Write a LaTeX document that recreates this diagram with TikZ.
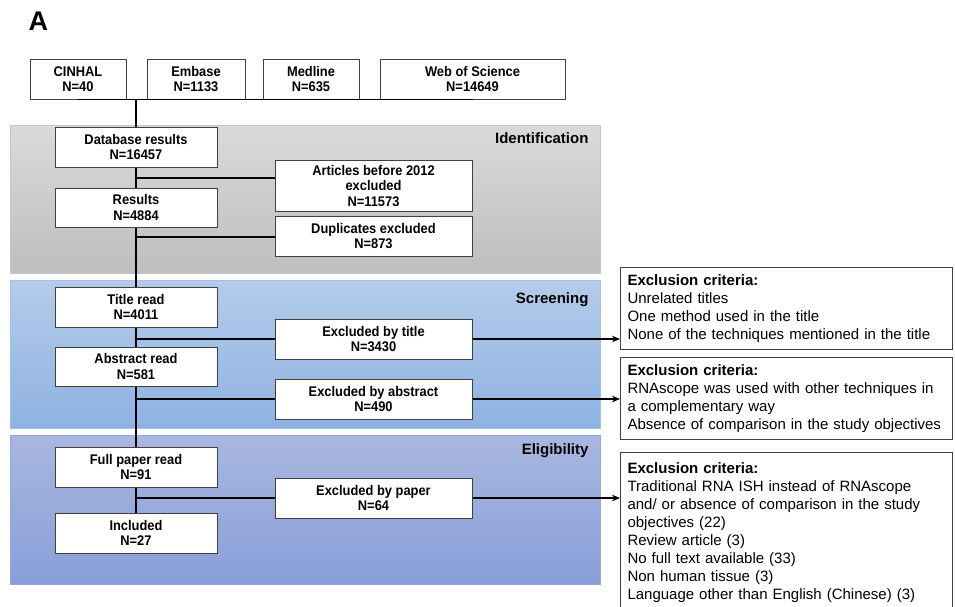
\documentclass[tikz,border=0pt]{standalone}
\usepackage{fontspec}
\setmainfont{Liberation Sans}
\newfontfamily\narrowbold[FakeStretch=0.92]{Liberation Sans Bold}
\usetikzlibrary{arrows.meta,calc}
\definecolor{boxgray}{HTML}{404040}
\definecolor{idtop}{HTML}{DADADA}
\definecolor{idbot}{HTML}{BEBEBE}
\definecolor{idline}{HTML}{C8C8C8}
\definecolor{sctop}{HTML}{B5CCEA}
\definecolor{scbot}{HTML}{8EB2E1}
\definecolor{scline}{HTML}{9DC3E6}
\definecolor{eltop}{HTML}{A9B7E0}
\definecolor{elbot}{HTML}{889FD7}
\definecolor{elline}{HTML}{8FAADC}
\begin{document}
\begin{tikzpicture}[x=1pt,y=-1pt,
  flow/.style={draw=boxgray, line width=1pt, fill=white, align=center,
    font=\fontsize{14}{15.5}\selectfont\narrowbold, inner sep=0pt},
  critbox/.style={draw=boxgray, line width=1pt, fill=white, align=left,
    text width=318pt, inner xsep=7pt, font=\fontsize{15}{18}\selectfont},
  panellabel/.style={anchor=base east, font=\fontsize{15}{18}\selectfont\bfseries},
  conn/.style={line width=1.2pt, black},
  arr/.style={conn, -{Stealth[length=8pt,width=6.5pt]}}]
\useasboundingbox (0,0) rectangle (955,606);
\clip (0,0) rectangle (955,606);

% panels
\shade[top color=idtop, bottom color=idbot] (10,125) rectangle (600,273);
\draw[idline, line width=0.8pt] (10,125) rectangle (600,273);
\shade[top color=sctop, bottom color=scbot] (10,280) rectangle (600,428);
\draw[scline, line width=0.8pt] (10,280) rectangle (600,428);
\shade[top color=eltop, bottom color=elbot] (10,435) rectangle (600,584);
\draw[elline, line width=0.8pt] (10,435) rectangle (600,584);

\node[panellabel] (lid) at (592,143) {Identification};
\node[panellabel] (lsc) at (592,303) {Screening};
\node[panellabel] (lel) at (592,454) {Eligibility};

\node[anchor=base west, font=\fontsize{27}{30}\selectfont\bfseries] (lA) at (25,30) {A};

% sources
\node[flow, minimum width=96, minimum height=40] (cin) at (78,79) {CINHAL\\N=40};
\node[flow, minimum width=98, minimum height=40] (emb) at (196,79) {Embase\\N=1133};
\node[flow, minimum width=96, minimum height=40] (med) at (311,79) {Medline\\N=635};
\node[flow, minimum width=185, minimum height=40] (wos) at (472.5,79) {Web of Science\\N=14649};

% left column
\node[flow, minimum width=162, minimum height=40] (db) at (136,147) {Database results\\N=16457};
\node[flow, minimum width=162, minimum height=39] (res) at (136,207.5) {Results\\N=4884};
\node[flow, minimum width=162, minimum height=40] (tit) at (136,307) {Title read\\N=4011};
\node[flow, minimum width=162, minimum height=39] (abs) at (136,366.5) {Abstract read\\N=581};
\node[flow, minimum width=162, minimum height=40] (full) at (136,467) {Full paper read\\N=91};
\node[flow, minimum width=162, minimum height=40] (inc) at (136,533) {Included\\N=27};

% right column
\node[flow, minimum width=197, minimum height=51] (art) at (373.5,185.5) {Articles before 2012\\excluded\\N=11573};
\node[flow, minimum width=197, minimum height=40] (dup) at (373.5,236) {Duplicates excluded\\N=873};
\node[flow, minimum width=197, minimum height=40] (ext) at (373.5,339) {Excluded by title\\N=3430};
\node[flow, minimum width=197, minimum height=40] (exa) at (373.5,399) {Excluded by abstract\\N=490};
\node[flow, minimum width=197, minimum height=40] (exp) at (373.5,498) {Excluded by paper\\N=64};

% criteria boxes
\node[critbox, minimum height=82, anchor=north west] (c1) at (620,267)
  {\textbf{Exclusion criteria:}\\Unrelated titles\\One method used in the title\\None of the techniques mentioned in the title};
\node[critbox, minimum height=82, anchor=north west] (c2) at (620,357)
  {\textbf{Exclusion criteria:}\\RNAscope was used with other techniques in\\a complementary way\\Absence of comparison in the study objectives};
\node[critbox, minimum height=160, anchor=north west, inner ysep=3pt] (c3) at (620,452)
  {\textbf{Exclusion criteria:}\\Traditional RNA ISH instead of RNAscope\\and/ or absence of comparison in the study\\objectives (22)\\Review article (3)\\No full text available (33)\\Non human tissue (3)\\Language other than English (Chinese) (3)\\[8pt]};

% connectors
\coordinate (top) at (136,100);
\draw[conn] (cin.south) -- (wos.south);
\draw[conn] (top) -- (db.north);
\draw[conn] (db.south) -- (res.north);
\draw[conn] (res.south) -- (tit.north);
\draw[conn] (tit.south) -- (abs.north);
\draw[conn] (abs.south) -- (full.north);
\draw[conn] (full.south) -- (inc.north);

\coordinate (b1) at (136,178);
\coordinate (b2) at (136,237);
\coordinate (b3) at (136,339);
\coordinate (b4) at (136,399);
\coordinate (b5) at (136,498);
\draw[conn] (b1) -- (b1 -| art.west);
\draw[conn] (b2) -- (b2 -| dup.west);
\draw[conn] (b3) -- (ext.west);
\draw[conn] (b4) -- (exa.west);
\draw[conn] (b5) -- (exp.west);

\draw[arr] (ext.east) -- (ext.east -| c1.west);
\draw[arr] (exa.east) -- (exa.east -| c2.west);
\draw[arr] (exp.east) -- (exp.east -| c3.west);
\end{tikzpicture}
\end{document}
